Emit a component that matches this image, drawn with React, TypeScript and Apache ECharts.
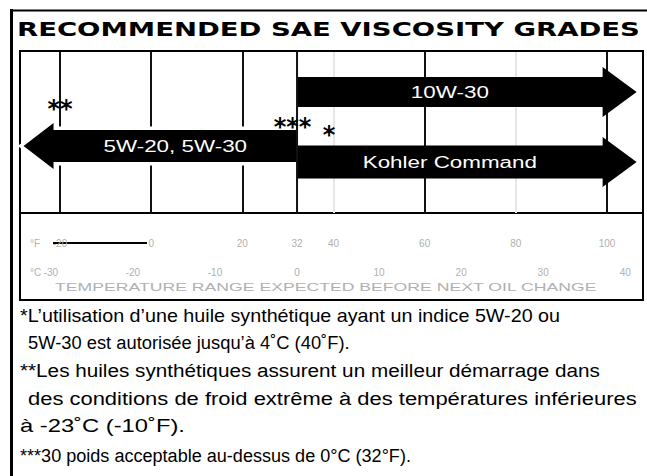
import React, { useEffect, useRef } from "react";
import * as echarts from "echarts";

// ---------- data ----------
const TITLE = "RECOMMENDED SAE VISCOSITY GRADES";
const gridTicksF = [-20, 0, 20, 40, 60, 80, 100];
const faintTicksF = [40, 80];
const freezeLineF = [32];
const gradeNames = ["5W-20, 5W-30", "10W-30", "Kohler Command"];
const gradeFromF = [32, 32, 32];
const gradeToF = [-28, 106.5, 106.5];
const noteMarks = ["**", "***", "*"];
const noteMarkF = [-20, 31, 39];
const scaleF = [-20, 0, 20, 32, 40, 60, 80, 100];
const scaleC = [-30, -20, -10, 0, 10, 20, 30, 40];
const scaleCaption = "TEMPERATURE RANGE EXPECTED BEFORE NEXT OIL CHANGE";
const footnotes = [
  "*L\u2019utilisation d\u2019une huile synth\u00e9tique ayant un indice 5W-20 ou",
  "5W-30 est autoris\u00e9e jusqu\u2019\u00e0 4\u02daC (40\u02daF).",
  "**Les huiles synth\u00e9tiques assurent un meilleur d\u00e9marrage dans",
  "des conditions de froid extr\u00eame \u00e0 des temp\u00e9ratures inf\u00e9rieures",
  "\u00e0 -23\u02daC (-10\u02daF).",
  "***30 poids acceptable au-dessus de 0\u00b0C (32\u00b0F).",
];

// ---------- layout ----------
const W = 647;
const H = 476;
const BOX = { left: 20, right: 643, top: 51, mid: 213, bottom: 300 };
const ROW_LEVEL = [95, 41, 111];
const BODY_HALF = [16, 15, 16.5];
const HEAD_HALF = [23, 25, 25];
const HEAD_LEN = [30, 34, 34];
const HALO = [true, false, false];
const MARK_LEVEL = [58, 76, 84];
const F_LEVEL = 192;
const C_LEVEL = 221;
const FOOT_X = [20, 28, 20, 28, 20, 20];
const FOOT_END = [560, 350, 600, 637, 185, 411];
const FOOT_Y = [315, 342, 370, 398, 426, 455];
const FOOT_FONT = 19;

function measure(text: string, font: string): number {
  const ctx = document.createElement("canvas").getContext("2d");
  if (!ctx) return text.length * 10;
  ctx.font = font;
  return ctx.measureText(text).width;
}

export default function App() {
  const ref = useRef<HTMLDivElement>(null);
  useEffect(() => {
    const el = ref.current;
    if (!el) return;
    const chart = echarts.init(el, null, { renderer: "svg" });

    const titleScale = (640 - 17) / measure(TITLE, "bold 20px 'DejaVu Sans'");
    const capScale = (598 - 55) / measure(scaleCaption, "10px 'Liberation Sans'");
    const footScale = footnotes.map(
      (t, i) => (FOOT_END[i] - FOOT_X[i]) / measure(t, `${FOOT_FONT}px 'Liberation Sans'`)
    );

    const splitColors = gridTicksF.map((t) => (faintTicksF.includes(t) ? "#e6e6e6" : "#111"));

    const option: any = {
      animation: false,
      backgroundColor: "#fff",
      grid: { left: 60, right: W - 607, top: BOX.top, height: BOX.mid - BOX.top },
      xAxis: {
        type: "value",
        min: -20,
        max: 100,
        interval: 20,
        axisLine: { show: false },
        axisTick: { show: false },
        axisLabel: { show: false },
        splitLine: { show: true, showMinLine: true, showMaxLine: true, lineStyle: { color: splitColors, width: 2 } },
      },
      yAxis: { type: "value", min: 0, max: BOX.mid - BOX.top, inverse: true, show: false, splitLine: { show: false } },
      series: [
        {
          type: "custom",
          name: "grades",
          z: 3,
          encode: { x: [0, 1] },
          data: gradeNames.map((_, i) => [gradeFromF[i], gradeToF[i]]),
          renderItem: (params: any, api: any) => {
            const i = params.dataIndex;
            const [x0, cy] = api.coord([api.value(0), ROW_LEVEL[i]]);
            const [x1] = api.coord([api.value(1), ROW_LEVEL[i]]);
            const dir = x1 > x0 ? 1 : -1;
            const bh = BODY_HALF[i];
            const hh = HEAD_HALF[i];
            const xb = x1 - dir * HEAD_LEN[i];
            const pts = [
              [x0, cy - bh], [xb, cy - bh], [xb, cy - hh], [x1, cy],
              [xb, cy + hh], [xb, cy + bh], [x0, cy + bh],
            ];
            const children: any[] = [];
            if (HALO[i]) {
              children.push({ type: "polygon", shape: { points: pts }, style: { fill: "#fff", stroke: "#fff", lineWidth: 7 } });
            }
            children.push({ type: "polygon", shape: { points: pts }, style: { fill: "#000" } });
            children.push({
              type: "text",
              x: (x0 + xb) / 2,
              y: cy,
              scaleX: 1.4,
              style: { text: gradeNames[i], fill: "#fff", fontSize: 16, fontFamily: "Liberation Sans", align: "center", verticalAlign: "middle" },
            });
            return { type: "group", children };
          },
        },
        {
          type: "custom",
          name: "freeze",
          z: 4,
          encode: { x: 0 },
          data: freezeLineF.map((f) => [f]),
          renderItem: (params: any, api: any) => {
            const [x, y0] = api.coord([api.value(0), 0]);
            const [, y1] = api.coord([api.value(0), BOX.mid - BOX.top]);
            return { type: "line", shape: { x1: x, y1: y0, x2: x, y2: y1 }, style: { stroke: "#111", lineWidth: 2 } };
          },
        },
        {
          type: "custom",
          name: "notes",
          z: 5,
          encode: { x: 0 },
          data: noteMarkF.map((f) => [f]),
          renderItem: (params: any, api: any) => {
            const i = params.dataIndex;
            const [x, y] = api.coord([api.value(0), MARK_LEVEL[i]]);
            return {
              type: "text",
              x,
              y,
              style: { text: noteMarks[i], fill: "#000", fontSize: 24, fontWeight: "bold", fontFamily: "DejaVu Sans", align: "center", verticalAlign: "middle" },
            };
          },
        },
        {
          type: "custom",
          name: "\u00b0F",
          z: 2,
          encode: { x: 0 },
          data: scaleF.map((f) => [f]),
          renderItem: (params: any, api: any) => {
            const [x, y] = api.coord([api.value(0), F_LEVEL]);
            return {
              type: "text",
              x,
              y,
              style: { text: String(api.value(0)), fill: "#b0b0b0", fontSize: 10, fontFamily: "Liberation Sans", align: "center", verticalAlign: "middle" },
            };
          },
        },
        {
          type: "custom",
          name: "\u00b0C",
          z: 2,
          encode: { x: 0 },
          data: scaleC.map((c) => [c * 9 / 5 + 32, c]),
          renderItem: (params: any, api: any) => {
            const [x, y] = api.coord([api.value(0), C_LEVEL]);
            return {
              type: "text",
              x,
              y,
              style: { text: String(api.value(1)), fill: "#b0b0b0", fontSize: 10, fontFamily: "Liberation Sans", align: "center", verticalAlign: "middle" },
            };
          },
        },
      ],
      graphic: [
        { type: "line", shape: { x1: 11.5, y1: 9, x2: 11.5, y2: H }, style: { stroke: "#000", lineWidth: 3 } },
        { type: "line", shape: { x1: 10, y1: 10.5, x2: W, y2: 10.5 }, style: { stroke: "#000", lineWidth: 2 } },
        {
          type: "rect",
          shape: { x: BOX.left, y: BOX.top, width: BOX.right - BOX.left, height: BOX.bottom - BOX.top },
          style: { fill: "none", stroke: "#000", lineWidth: 2 },
          z: 1,
        },
        { type: "line", shape: { x1: BOX.left, y1: BOX.mid, x2: BOX.right, y2: BOX.mid }, style: { stroke: "#000", lineWidth: 2 } },
        { type: "line", shape: { x1: 53, y1: 243, x2: 147, y2: 243 }, style: { stroke: "#000", lineWidth: 2 } },
        {
          type: "text",
          x: 17,
          y: 29,
          scaleX: titleScale,
          style: { text: TITLE, fill: "#000", fontSize: 20, fontWeight: "bold", fontFamily: "DejaVu Sans", verticalAlign: "middle" },
        },
        { type: "text", x: 30, y: 243, style: { text: "\u00b0F", fill: "#b0b0b0", fontSize: 10, fontFamily: "Liberation Sans", verticalAlign: "middle" } },
        { type: "text", x: 30, y: 272, style: { text: "\u00b0C", fill: "#b0b0b0", fontSize: 10, fontFamily: "Liberation Sans", verticalAlign: "middle" } },
        {
          type: "text",
          x: 55,
          y: 288,
          scaleX: capScale,
          style: { text: scaleCaption, fill: "#b0b0b0", fontSize: 10, fontFamily: "Liberation Sans", verticalAlign: "middle" },
        },
        ...footnotes.map((t, i) => ({
          type: "text",
          x: FOOT_X[i],
          y: FOOT_Y[i],
          scaleX: footScale[i],
          style: { text: t, fill: "#000", fontSize: FOOT_FONT, fontFamily: "Liberation Sans", verticalAlign: "middle" },
        })),
      ],
    };
    chart.setOption(option);
    return () => chart.dispose();
  }, []);
  return <div ref={ref} style={{ position: "fixed", left: 0, top: 0, width: W, height: H, background: "#fff" }} />;
}
